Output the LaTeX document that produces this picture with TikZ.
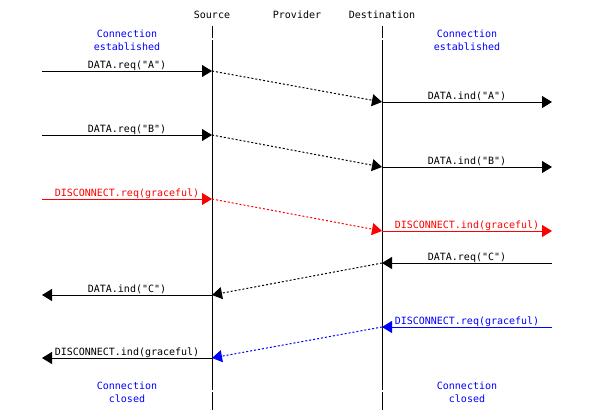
\documentclass[tikz,border=0pt]{standalone}
\usepackage{fontspec}
\setmonofont{DejaVu Sans Mono}
\usetikzlibrary{arrows.meta}
\tikzset{
  lbl/.style={font=\ttfamily\fontsize{10}{13}\selectfont, inner sep=0pt, anchor=base},
  hdr/.style={font=\ttfamily\fontsize{10}{13}\selectfont, inner sep=0pt, anchor=base},
  note/.style={font=\ttfamily\fontsize{10}{13}\selectfont, inner sep=0pt, align=center, text=blue},
  life/.style={line width=1pt, black},
  msg/.style={line width=1pt, -{Triangle[length=10pt,width=12pt]}},
  prov/.style={line width=1pt, dash pattern=on 2pt off 2pt, -{Triangle[length=10pt,width=12pt]}}
}
\begin{document}
\begin{tikzpicture}[x=1pt,y=-1pt]
\useasboundingbox (0,0) rectangle (595,410);
% headers
\node[hdr] (hs) at (212,18) {Source};
\node[hdr] (hp) at (297,18) {Provider};
\node[hdr] (hd) at (382,18) {Destination};
% lifelines
\coordinate (s0) at (212,26); \coordinate (s1) at (212,38);
\coordinate (s2) at (212,40); \coordinate (s3) at (212,390);
\coordinate (s4) at (212,392); \coordinate (s5) at (212,410);
\coordinate (d0) at (382,26); \coordinate (d1) at (382,38);
\coordinate (d2) at (382,40); \coordinate (d3) at (382,390);
\coordinate (d4) at (382,392); \coordinate (d5) at (382,410);
\draw[life] (s0) -- (s1) (s2) -- (s3) (s4) -- (s5);
\draw[life] (d0) -- (d1) (d2) -- (d3) (d4) -- (d5);
% notes
\node[note] (n1) at (127,40) {Connection\\established};
\node[note] (n2) at (467,40) {Connection\\established};
\node[note] (n3) at (127,392) {Connection\\closed};
\node[note] (n4) at (467,392) {Connection\\closed};
% coordinates
\coordinate (aL) at (42,71);  \coordinate (aS) at (212,71);
\coordinate (aD) at (382,102); \coordinate (aR) at (552,102);
\coordinate (bL) at (42,135); \coordinate (bS) at (212,135);
\coordinate (bD) at (382,167); \coordinate (bR) at (552,167);
\coordinate (cL) at (42,199); \coordinate (cS) at (212,199);
\coordinate (cD) at (382,231); \coordinate (cR) at (552,231);
\coordinate (eR) at (552,263); \coordinate (eD) at (382,263);
\coordinate (eS) at (212,295); \coordinate (eL) at (42,295);
\coordinate (fR) at (552,327); \coordinate (fD) at (382,327);
\coordinate (fS) at (212,358); \coordinate (fL) at (42,358);
% A
\draw[msg] (aL) -- (aS);
\node[lbl] (la1) at (127,68) {DATA.req("A")};
\draw[prov] (aS) -- (aD);
\draw[msg] (aD) -- (aR);
\node[lbl] (la2) at (467,99) {DATA.ind("A")};
% B
\draw[msg] (bL) -- (bS);
\node[lbl] (lb1) at (127,132) {DATA.req("B")};
\draw[prov] (bS) -- (bD);
\draw[msg] (bD) -- (bR);
\node[lbl] (lb2) at (467,164) {DATA.ind("B")};
% C disconnect red
\draw[msg, red] (cL) -- (cS);
\node[lbl, text=red] (lc1) at (127,196) {DISCONNECT.req(graceful)};
\draw[prov, red] (cS) -- (cD);
\draw[msg, red] (cD) -- (cR);
\node[lbl, text=red] (lc2) at (467,228) {DISCONNECT.ind(graceful)};
% E data C
\draw[msg] (eR) -- (eD);
\node[lbl] (le1) at (467,260) {DATA.req("C")};
\draw[prov] (eD) -- (eS);
\draw[msg] (eS) -- (eL);
\node[lbl] (le2) at (127,292) {DATA.ind("C")};
% F disconnect blue
\draw[msg, blue] (fR) -- (fD);
\node[lbl, text=blue] (lf1) at (467,324) {DISCONNECT.req(graceful)};
\draw[prov, blue] (fD) -- (fS);
\draw[msg] (fS) -- (fL);
\node[lbl] (lf2) at (127,355) {DISCONNECT.ind(graceful)};
\end{tikzpicture}
\end{document}
